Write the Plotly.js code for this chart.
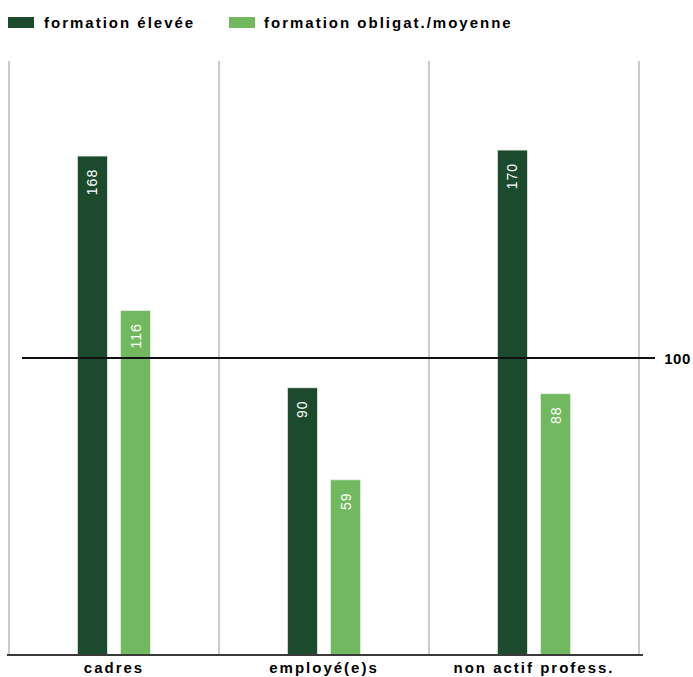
<!DOCTYPE html>
<html>
<head>
<meta charset="utf-8">
<script src="https://cdn.plot.ly/plotly-3.0.1.min.js"></script>
<style>
  html, body { margin: 0; padding: 0; background: #fff; }
  #chart { width: 693px; height: 677px; }
  .xtick text { letter-spacing: 2px; }
  .annotation-text { letter-spacing: 2px; }
  g.annotation[data-index="0"] .annotation-text { letter-spacing: 0.5px; }
  .bartext { letter-spacing: 1px; }
</style>
</head>
<body>
<div id="chart"></div>
<script>
const categories = ["cadres", "employé(e)s", "non actif profess."];
const seriesNames = ["formation élevée", "formation obligat./moyenne"];
const valuesHigh = [168, 90, 170];
const valuesMedium = [116, 59, 88];
const referenceLevel = 100;
const referenceLabel = "100";

const colors = ["#1c4a2c", "#72b85e"];
const FONT = "Liberation Sans, Arial, sans-serif";

// plot area geometry (pixels)
const W = 693, H = 677;
const mL = 9, mR = W - 639, mT = 61, mB = H - 655;
const pw = W - mL - mR, ph = H - mT - mB;
const px = x => (x - mL) / pw;
const py = y => (H - mB - y) / ph;

function barTrace(name, vals, color) {
  return {
    type: "bar",
    name: name,
    x: categories,
    y: vals,
    text: vals.map(v => String(v) + "\u00a0\u00a0"),
    textposition: "inside",
    insidetextanchor: "end",
    textangle: -90,
    textfont: { family: FONT, size: 14, color: "#ffffff" },
    marker: { color: color, line: { color: "rgba(235,240,235,0.8)", width: 1 } },
    cliponaxis: false,
    hoverinfo: "skip"
  };
}

const data = [
  barTrace(seriesNames[0], valuesHigh, colors[0]),
  barTrace(seriesNames[1], valuesMedium, colors[1])
];

const legendShapes = [];
const legendAnn = [];
const legendRects = [[8, 34], [229, 255]];
const legendTextX = [43, 263];
seriesNames.forEach((n, i) => {
  legendShapes.push({
    type: "rect", xref: "paper", yref: "paper",
    x0: px(legendRects[i][0]), x1: px(legendRects[i][1]),
    y0: py(28), y1: py(17),
    fillcolor: colors[i], line: { width: 0 }
  });
  legendAnn.push({
    xref: "paper", yref: "paper", x: px(legendTextX[i]), y: py(22.5),
    xanchor: "left", yanchor: "middle", showarrow: false, borderpad: 0,
    text: "<b>" + n + "</b>",
    font: { family: FONT, size: 15, color: "#000" }
  });
});

// grid lines at the outer category boundaries
const edgeGrid = [0, 1].map(x => ({
  type: "line", xref: "paper", yref: "paper", x0: x, x1: x, y0: 0, y1: 1,
  line: { color: "#cccccc", width: 2 }, layer: "below"
}));

const layout = {
  width: W, height: H,
  margin: { l: mL, r: mR, t: mT, b: mB, pad: 0 },
  paper_bgcolor: "#ffffff",
  plot_bgcolor: "#ffffff",
  showlegend: false,
  barmode: "group",
  bargap: 0.59,
  bargroupgap: 0.3,
  font: { family: FONT, size: 15, color: "#000" },
  xaxis: {
    type: "category",
    range: [-0.5, 2.5],
    tickson: "boundaries",
    showgrid: true,
    gridcolor: "#cccccc",
    gridwidth: 2,
    showline: false,
    ticks: "",
    ticklabelstandoff: 2,
    tickfont: { family: FONT, size: 15, color: "#000", weight: "bold" },
    fixedrange: true
  },
  yaxis: {
    range: [0, 200],
    showgrid: false,
    zeroline: false,
    showticklabels: false,
    showline: false,
    ticks: "",
    fixedrange: true
  },
  shapes: edgeGrid.concat(legendShapes).concat([
    {
      type: "line", xref: "paper", yref: "y",
      x0: px(22), x1: px(655), y0: referenceLevel, y1: referenceLevel,
      line: { color: "#111111", width: 2 }, layer: "above"
    },
    {
      type: "line", xref: "paper", yref: "paper",
      x0: px(7), x1: px(643), y0: 0, y1: 0,
      line: { color: "#3a3a3a", width: 2 }, layer: "above"
    }
  ]),
  annotations: [{
    xref: "paper", yref: "y", x: px(661), y: referenceLevel,
    xanchor: "left", yanchor: "middle", showarrow: false, borderpad: 0,
    text: "<b>" + referenceLabel + "</b>",
    font: { family: FONT, size: 15, color: "#000" }
  }].concat(legendAnn)
};

Plotly.newPlot("chart", data, layout, { displayModeBar: false, staticPlot: true });
</script>
</body>
</html>
